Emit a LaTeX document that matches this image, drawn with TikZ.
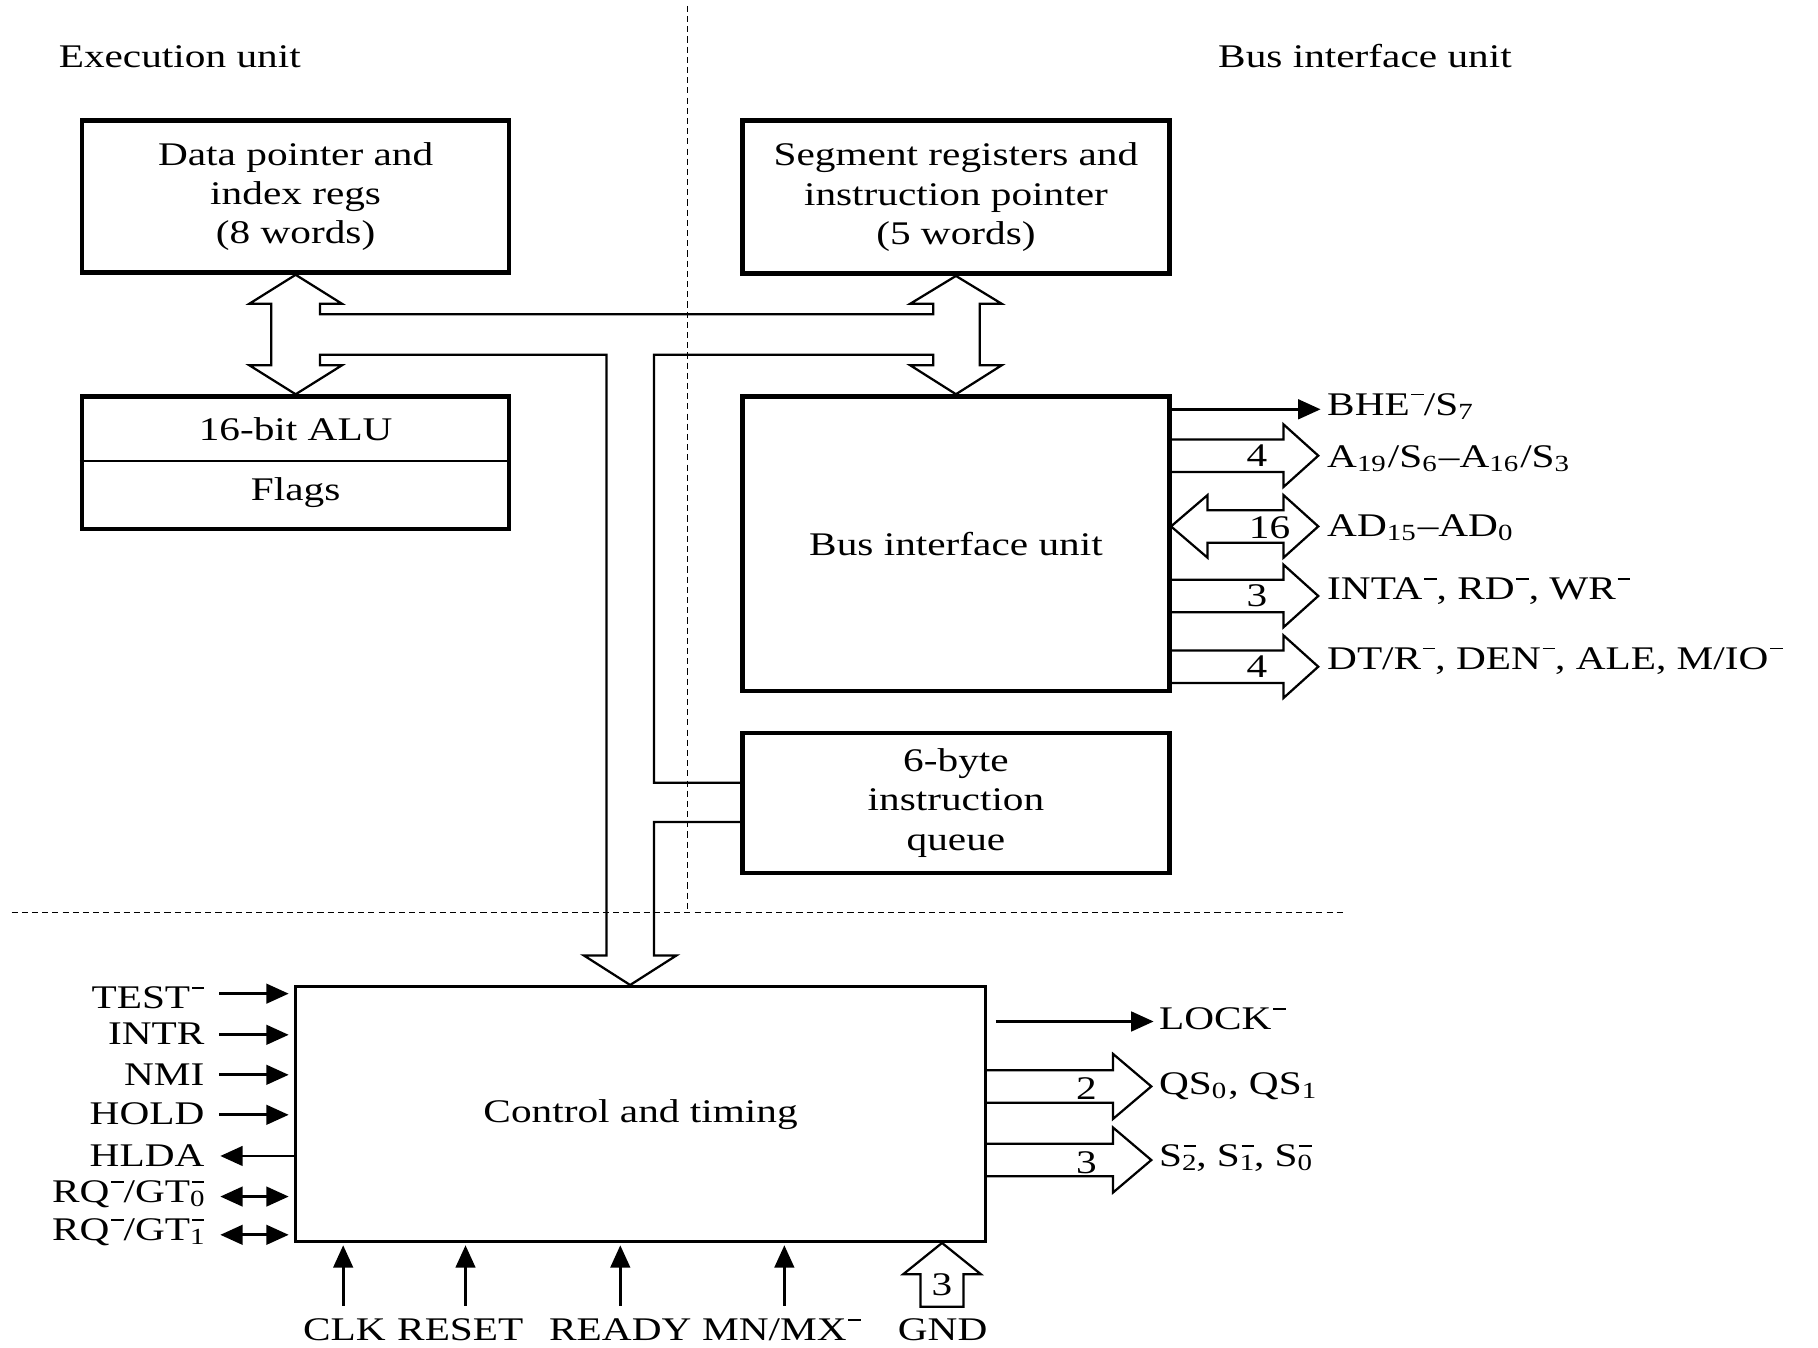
\documentclass[tikz,border=0pt]{standalone}
\usepackage{fontspec}
\setmainfont{Liberation Serif}[FakeStretch=1.25]
\usetikzlibrary{arrows.meta}
\newcommand{\nbar}{\kern0.05em\rule[0.6em]{0.38em}{0.4pt}}
\newcommand{\nsub}[1]{\makebox[0pt][l]{\textsubscript{#1}}\nbar}
\tikzset{
    unitbox/.style={draw, line width=1.1pt, inner sep=0pt, align=center},
    ctrlbox/.style={draw, line width=0.8pt, inner sep=0pt, align=center},
    bus/.style={line width=0.55pt, line join=miter},
    sig/.style={line width=0.7pt, -{Triangle[length=5.5pt, width=4.8pt]}},
    sigboth/.style={line width=0.7pt, {Triangle[length=5.5pt, width=4.8pt]}-{Triangle[length=5.5pt, width=4.8pt]}},
    sepline/.style={line width=0.4pt, dash pattern=on 1.5pt off 1pt},
    siglabel/.style={inner sep=0pt}
}
\begin{document}
\begin{tikzpicture}[x=0.01cm, y=-0.01cm, font=\fontsize{8.1}{9.66}\selectfont]
\useasboundingbox (0,0) rectangle (1568,1162);
% unit borders
\draw[sepline] (593,5) -- (593,787);
\draw[sepline] (10,787) -- (1158,787);
\node[siglabel, anchor=base west] (euhead) at (50,58) {Execution unit};
\node[siglabel, anchor=base west] (biuhead) at (1050,58) {Bus interface unit};

% execution unit
\node[unitbox, minimum width=3.68cm, minimum height=1.31cm] (dpr) at (255,169.5) {Data pointer and\\index regs\\(8 words)};
\node[unitbox, minimum width=3.68cm, minimum height=1.14cm] (alu) at (255,399) {};
\draw[line width=0.5pt] ([yshift=0.15mm]alu.west) -- ([yshift=0.15mm]alu.east);
\node (alutxt) at (255,370) {16-bit ALU};
\node (flagtxt) at (255,425) {Flags};

% bus interface unit
\node[unitbox, minimum width=3.68cm, minimum height=1.32cm] (seg) at (824.5,170) {Segment registers and\\instruction pointer\\(5 words)};
\node[unitbox, minimum width=3.68cm, minimum height=2.54cm] (biu) at (824.5,469) {Bus interface unit};
\node[unitbox, minimum width=3.68cm, minimum height=1.21cm] (queue) at (824.5,692.5) {6-byte\\instruction\\queue};

% control
\node[ctrlbox, minimum width=5.95cm, minimum height=2.2cm] (ctrl) at (552.5,961) {Control and timing};
\coordinate (ctrlin) at ([xshift=-0.9mm]ctrl.north);

% internal bus
\draw[bus] ([yshift=1.75mm]queue.west) -- (564,675) -- (564,306) -- (805,306) -- (805,315) -- (785,315)
    -- (biu.north) -- (864,315) -- (845,315) -- (845,262) -- (864,262) -- (seg.south) -- (785,262)
    -- (805,262) -- (805,271) -- (276,271) -- (276,262) -- (295,262) -- (dpr.south) -- (215,262)
    -- (234,262) -- (234,315) -- (215,315) -- (alu.north) -- (295,315) -- (276,315) -- (276,306)
    -- (523,306) -- (523,824) -- (503.5,824) -- (ctrlin) -- (583.5,824) -- (564,824) -- (564,709)
    -- ([yshift=-1.65mm]queue.west);

% BIU outputs
\draw[sig] (1009,353) -- (1139,353);
\foreach \y/\w/\nm in {393/4/wa, 514/3/wc, 575/4/wd}{
    \draw[bus] (1009,\y-14) -- (1107,\y-14) -- (1107,\y-27) -- (1137,\y) -- (1107,\y+27) -- (1107,\y+14) -- (1009,\y+14);
    \node (\nm) at (1084,\y) {\w};
}
\draw[bus] (1041.5,440) -- (1107,440) -- (1107,427) -- (1137,454) -- (1107,481) -- (1107,468)
    -- (1041.5,468) -- (1041.5,481) -- (1010,454) -- (1041.5,427) -- cycle;
\node (wb) at (1095,455) {16};
\node[siglabel, anchor=base west] (bhe) at (1144,358) {BHE\nbar/S\textsubscript{7}};
\node[siglabel, anchor=base west] (addr) at (1144,403) {A\textsubscript{19}/S\textsubscript{6}--A\textsubscript{16}/S\textsubscript{3}};
\node[siglabel, anchor=base west] (adbus) at (1144,463) {AD\textsubscript{15}--AD\textsubscript{0}};
\node[siglabel, anchor=base west] (inta) at (1144,517) {INTA\nbar, RD\nbar, WR\nbar};
\node[siglabel, anchor=base west] (dtr) at (1144,577) {DT/R\nbar, DEN\nbar, ALE, M/IO\nbar};

% control outputs
\draw[sig] (859,881) -- (995,881);
\foreach \y/\w/\nm in {937/2/wqs, 1000.5/3/wst}{
    \draw[bus] (850,\y-14) -- (960,\y-14) -- (960,\y-28) -- (993,\y) -- (960,\y+28) -- (960,\y+14) -- (850,\y+14);
    \node (\nm) at (937,\y+2) {\w};
}
\node[siglabel, anchor=base west] (lock) at (999,888) {LOCK\nbar};
\node[siglabel, anchor=base west] (qs) at (999,944) {QS\textsubscript{0}, QS\textsubscript{1}};
\node[siglabel, anchor=base west] (sst) at (999,1006) {S\nsub{2}, S\nsub{1}, S\nsub{0}};

% control inputs, left
\draw[sig] (189,857) -- (249,857);
\draw[sig] (189,892.5) -- (249,892.5);
\draw[sig] (189,927) -- (249,927);
\draw[sig] (189,961.5) -- (249,961.5);
\draw[sig] (254,997) -- (190,997);
\draw[sigboth] (190,1032) -- (249,1032);
\draw[sigboth] (190,1065) -- (249,1065);
\node[siglabel, anchor=base east] (test) at (177,870) {TEST\nbar};
\node[siglabel, anchor=base east] (intr) at (177,901) {INTR};
\node[siglabel, anchor=base east] (nmi) at (177,936) {NMI};
\node[siglabel, anchor=base east] (hold) at (177,970) {HOLD};
\node[siglabel, anchor=base east] (hlda) at (177,1006) {HLDA};
\node[siglabel, anchor=base east] (rqa) at (177,1037) {RQ\nbar/GT\nsub{0}};
\node[siglabel, anchor=base east] (rqb) at (177,1070) {RQ\nbar/GT\nsub{1}};

% control inputs, bottom
\draw[sig] (296,1126) -- (296,1074);
\draw[sig] (401.5,1126) -- (401.5,1074);
\draw[sig] (535,1126) -- (535,1074);
\draw[sig] (676.5,1126) -- (676.5,1074);
\draw[bus] (794,1127) -- (794,1099) -- (779,1099) -- (812.5,1072) -- (846,1099) -- (831,1099) -- (831,1127) -- cycle;
\node (wgnd) at (812.5,1108) {3};
\node[siglabel, anchor=base] (clk) at (297,1156) {CLK};
\node[siglabel, anchor=base] (reset) at (397,1156) {RESET};
\node[siglabel, anchor=base] (ready) at (535,1156) {READY};
\node[siglabel, anchor=base] (mnmx) at (674,1156) {MN/MX\nbar};
\node[siglabel, anchor=base] (gnd) at (813,1156) {GND};
\end{tikzpicture}
\end{document}
